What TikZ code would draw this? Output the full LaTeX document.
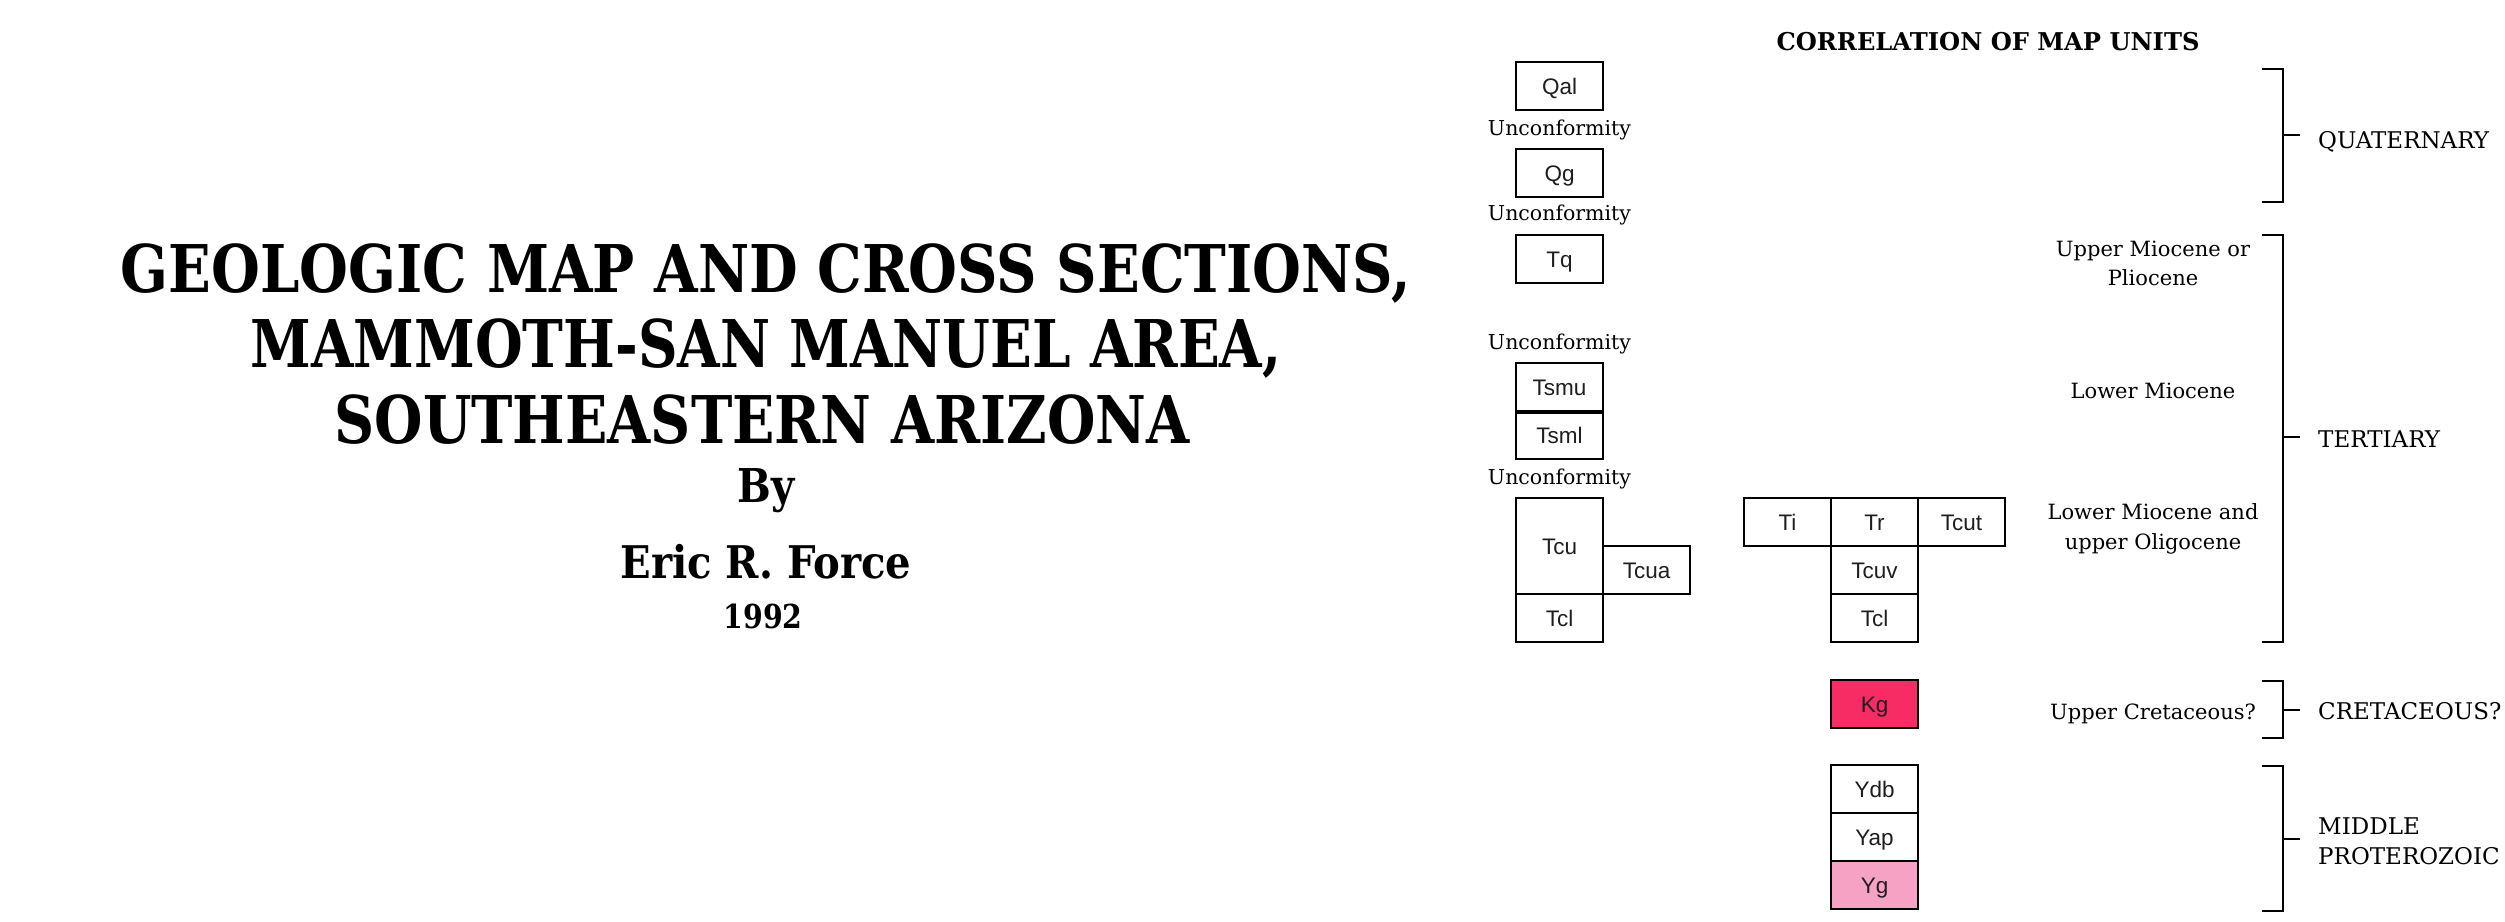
\documentclass[tikz,border=0pt]{standalone}
\usepackage{fontspec}
\usepackage{graphicx}
\setmainfont{DejaVu Serif}
\newfontfamily\lblfont{Liberation Sans}
\definecolor{kgred}{RGB}{248,44,100}
\definecolor{ygpink}{RGB}{245,162,196}
\definecolor{lbltext}{RGB}{30,30,30}
\newcommand\fitw[2]{\resizebox{#1}{\height}{#2}}
\begin{document}
\begin{tikzpicture}[x=1pt,y=-1pt,
  unit/.style={draw, line width=1.8pt, minimum width=87pt, minimum height=48pt, inner sep=0pt,
    text height=16pt, text depth=0pt, text=lbltext, font=\lblfont\fontsize{22.5}{22.5}\selectfont},
  tall/.style={unit, minimum height=96pt},
  txt/.style={inner sep=0pt, anchor=base, font=\fontsize{20.5}{20.5}\selectfont},
  era/.style={inner sep=0pt, anchor=base west, font=\fontsize{23}{23}\selectfont},
  age/.style={inner sep=0pt, anchor=base, font=\fontsize{21}{21}\selectfont},
  ttl/.style={inner sep=0pt, anchor=base, font=\bfseries},
  brk/.style={line width=2.2pt}
]
\useasboundingbox[fill=white] (0,0) rectangle (2505,921);

% main title
\node[ttl] (t1) at (766,292) {\fitw{1290pt}{\fontsize{65.8}{66}\selectfont GEOLOGIC MAP AND CROSS SECTIONS,}};
\node[ttl] (t2) at (766,367) {\fitw{1031pt}{\fontsize{65.8}{66}\selectfont MAMMOTH-SAN MANUEL AREA,}};
\node[ttl] (t3) at (762,443) {\fitw{855pt}{\fontsize{65.8}{66}\selectfont SOUTHEASTERN ARIZONA}};
\node[ttl] (by) at (766,502) {\fitw{57pt}{\fontsize{46.6}{47}\selectfont By}};
\node[ttl] (au) at (766,578) {\fitw{291pt}{\fontsize{45}{45}\selectfont Eric R. Force}};
\node[ttl] (yr) at (763,628) {\fitw{79pt}{\fontsize{33}{33}\selectfont 1992}};

% correlation title
\node[ttl] (ct) at (1988,50) {\fitw{423pt}{\fontsize{24.5}{25}\selectfont CORRELATION OF MAP UNITS}};

% left column
\node[unit] (qal) at (1559.5,86) {Qal};
\node[txt] (u1) at (1559.5,135) {Unconformity};
\node[unit] (qg) at (1559.5,173) {Qg};
\node[txt] (u2) at (1559.5,220) {Unconformity};
\node[unit] (tq) at (1559.5,259) {Tq};
\node[txt] (u3) at (1559.5,349) {Unconformity};
\node[unit] (tsmu) at (1559.5,387) {Tsmu};
\node[unit] (tsml) at (1559.5,435) {Tsml};
\draw[line width=4.5pt] (tsmu.south west) -- (tsmu.south east);
\node[txt] (u4) at (1559.5,484) {Unconformity};
\node[tall] (tcu) at (1559.5,546) {Tcu};
\node[unit] (tcl) at (1559.5,618) {Tcl};
\node[unit] (tcua) at (1646.5,570) {Tcua};

% middle column
\node[unit] (ti) at (1787.5,522) {Ti};
\node[unit] (tr) at (1874.5,522) {Tr};
\node[unit] (tcut) at (1961.5,522) {Tcut};
\node[unit] (tcuv) at (1874.5,570) {Tcuv};
\node[unit] (tclb) at (1874.5,618) {Tcl};
\node[unit, fill=kgred] (kg) at (1874.5,704) {Kg};
\node[unit] (ydb) at (1874.5,789) {Ydb};
\node[unit] (yap) at (1874.5,837) {Yap};
\node[unit, fill=ygpink] (yg) at (1874.5,885) {Yg};

% age labels
\node[age] (a1) at (2153,256) {Upper Miocene or};
\node[age] (a1b) at (2153,285) {Pliocene};
\node[age] (a2) at (2153,398) {Lower Miocene};
\node[age] (a3) at (2153,519) {Lower Miocene and};
\node[age] (a3b) at (2153,549) {upper Oligocene};
\node[age] (a4) at (2153,719) {Upper Cretaceous?};

% brackets
\draw[brk] (2262,69) -- (2283,69) -- (2283,202) -- (2262,202);
\draw[brk] (2283,135) -- (2300,135);
\draw[brk] (2262,235) -- (2283,235) -- (2283,642) -- (2262,642);
\draw[brk] (2283,437) -- (2300,437);
\draw[brk] (2262,681) -- (2283,681) -- (2283,738) -- (2262,738);
\draw[brk] (2283,710) -- (2300,710);
\draw[brk] (2262,766) -- (2283,766) -- (2283,911) -- (2262,911);
\draw[brk] (2283,839) -- (2300,839);

% era labels
\node[era] (e1) at (2318,148) {QUATERNARY};
\node[era] (e2) at (2318,447) {TERTIARY};
\node[era] (e3) at (2318,719) {CRETACEOUS?};
\node[era] (e4) at (2318,834) {MIDDLE};
\node[era] (e4b) at (2318,864) {PROTEROZOIC};
\end{tikzpicture}
\end{document}
